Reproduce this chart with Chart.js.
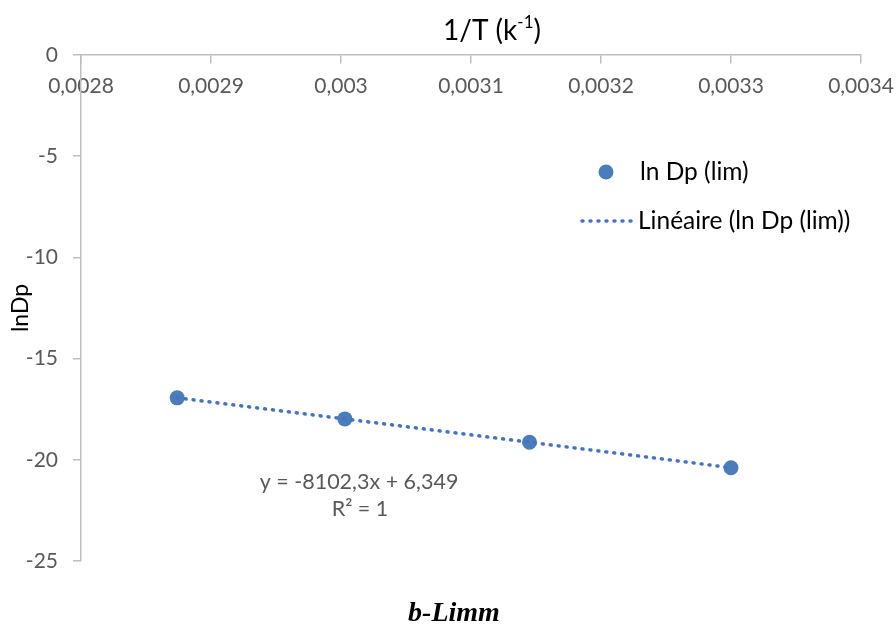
<!DOCTYPE html>
<html>
<head>
<meta charset="utf-8">
<script src="https://cdn.jsdelivr.net/npm/chart.js@4/dist/chart.umd.min.js"></script>
<style>
  html, body { margin: 0; padding: 0; background: #ffffff; }
  #wrap { width: 896px; height: 627px; position: relative; }
</style>
</head>
<body>
<div id="wrap"><canvas id="c" width="896" height="627"></canvas></div>
<script>
// Inverse temperature (1/K) and ln of the limiting diffusion coefficient
const invT = [0.002874, 0.003003, 0.003145, 0.003300];
const lnDp = [-16.94, -17.98, -19.13, -20.39];

// Axis tick values
const xTickValues = [0.0028, 0.0029, 0.0030, 0.0031, 0.0032, 0.0033, 0.0034];
const yTickValues = [0, -5, -10, -15, -20, -25];

// Linear fit shown on the chart
const fitSlope = -8102.3;
const fitIntercept = 6.349;
const fitEquation = 'y = -8102,3x + 6,349';
const fitR2 = '1';

// Text
const seriesName = 'ln Dp (lim)';
const trendName = 'Linéaire (ln Dp (lim))';
const yTitle = 'lnDp';
const caption = 'b-Limm';

const FONT = "Lato, 'Open Sans', sans-serif";
const POINT_COLOR = '#4a7ebb';
const TREND_COLOR = '#4472c4';
const AXIS_COLOR = '#bfbfbf';
const TICK_COLOR = '#595959';

const fmtComma = v => String(+Number(v).toFixed(4)).replace('.', ',');

// Trend line endpoints follow the fitted equation over the data range
const xFitMin = Math.min(...invT);
const xFitMax = Math.max(...invT);
const trendData = [xFitMin, xFitMax].map(x => ({ x, y: fitSlope * x + fitIntercept }));

const annotations = {
  id: 'annotations',
  afterDraw(chart) {
    const ctx = chart.ctx;
    ctx.save();

    // Axis title at the top: 1/T (k^-1)
    ctx.fillStyle = '#000000';
    ctx.textBaseline = 'middle';
    const bigFont = '28px ' + FONT;
    const supFont = '17px ' + FONT;
    ctx.font = bigFont;
    const partA = '1/T (k', partC = ')';
    const wA = ctx.measureText(partA).width;
    const wC = ctx.measureText(partC).width;
    ctx.font = supFont;
    const supText = '-1';
    const wB = ctx.measureText(supText).width;
    let tx = 492 - (wA + wB + wC) / 2;
    const ty = 31;
    ctx.textAlign = 'left';
    ctx.font = bigFont;
    ctx.fillText(partA, tx, ty);
    tx += wA;
    ctx.font = supFont;
    ctx.fillText(supText, tx, ty - 8);
    tx += wB;
    ctx.font = bigFont;
    ctx.fillText(partC, tx, ty);

    // Legend
    ctx.fillStyle = POINT_COLOR;
    ctx.beginPath();
    ctx.arc(606, 172, 7.5, 0, Math.PI * 2);
    ctx.fill();
    ctx.strokeStyle = TREND_COLOR;
    ctx.lineWidth = 3.5;
    ctx.lineCap = 'round';
    ctx.setLineDash([1, 7]);
    ctx.beginPath();
    ctx.moveTo(582, 221);
    ctx.lineTo(632, 221);
    ctx.stroke();
    ctx.setLineDash([]);
    ctx.fillStyle = '#000000';
    ctx.font = '24.5px ' + FONT;
    ctx.textAlign = 'left';
    ctx.fillText(seriesName, 640, 172);
    ctx.fillText(trendName, 638, 221);

    // Fit equation and R²
    ctx.fillStyle = TICK_COLOR;
    ctx.textAlign = 'center';
    ctx.font = '21.5px ' + FONT;
    ctx.fillText(fitEquation, 359, 482);
    ctx.fillText('R² = ' + fitR2, 360, 509);

    // Caption under the chart
    ctx.fillStyle = '#000000';
    ctx.font = 'italic bold 28px "Liberation Serif", "Times New Roman", serif';
    ctx.textBaseline = 'alphabetic';
    ctx.fillText(caption, 454, 621);

    ctx.restore();
  }
};

new Chart(document.getElementById('c'), {
  type: 'scatter',
  data: {
    datasets: [
      {
        label: trendName,
        type: 'line',
        data: trendData,
        borderColor: TREND_COLOR,
        borderWidth: 3.5,
        borderDash: [1, 7],
        borderCapStyle: 'round',
        pointRadius: 0,
        fill: false,
        tension: 0,
        order: 0
      },
      {
        label: seriesName,
        data: invT.map((x, i) => ({ x, y: lnDp[i] })),
        backgroundColor: POINT_COLOR,
        borderColor: POINT_COLOR,
        borderWidth: 0,
        pointRadius: 7.5,
        order: 1
      }
    ]
  },
  options: {
    responsive: false,
    animation: false,
    devicePixelRatio: 1,
    layout: { padding: { top: 55, left: 0, right: 35, bottom: 66 } },
    plugins: {
      legend: { display: false },
      tooltip: { enabled: false },
      title: { display: false }
    },
    scales: {
      x: {
        type: 'linear',
        min: 0.0028,
        max: 0.0034,
        position: { y: 0 },
        afterBuildTicks: s => { s.ticks = xTickValues.map(v => ({ value: v })); },
        afterFit: s => { s.height = 0; s.paddingLeft = 0; s.paddingRight = 0; },
        ticks: {
          callback: v => fmtComma(v),
          color: TICK_COLOR,
          font: { family: FONT, size: 21 },
          padding: 11,
          maxRotation: 0,
          autoSkip: false
        },
        grid: { drawOnChartArea: false, drawTicks: true, tickLength: 8, color: AXIS_COLOR, lineWidth: 1.5 },
        border: { color: AXIS_COLOR, width: 1.5 }
      },
      y: {
        type: 'linear',
        min: -25,
        max: 0,
        position: 'left',
        afterBuildTicks: s => { s.ticks = yTickValues.map(v => ({ value: v })); },
        afterFit: s => { s.width = 81; s.paddingTop = 0; s.paddingBottom = 0; },
        ticks: {
          callback: v => String(v),
          color: TICK_COLOR,
          font: { family: FONT, size: 21 },
          padding: 15
        },
        title: {
          display: true,
          text: yTitle,
          color: '#000000',
          font: { family: FONT, size: 23 },
          padding: { top: 7, bottom: 0 }
        },
        grid: { drawOnChartArea: false, drawTicks: true, tickLength: 8, color: AXIS_COLOR, lineWidth: 1.5 },
        border: { color: AXIS_COLOR, width: 1.5 }
      }
    }
  },
  plugins: [annotations]
});
</script>
</body>
</html>
